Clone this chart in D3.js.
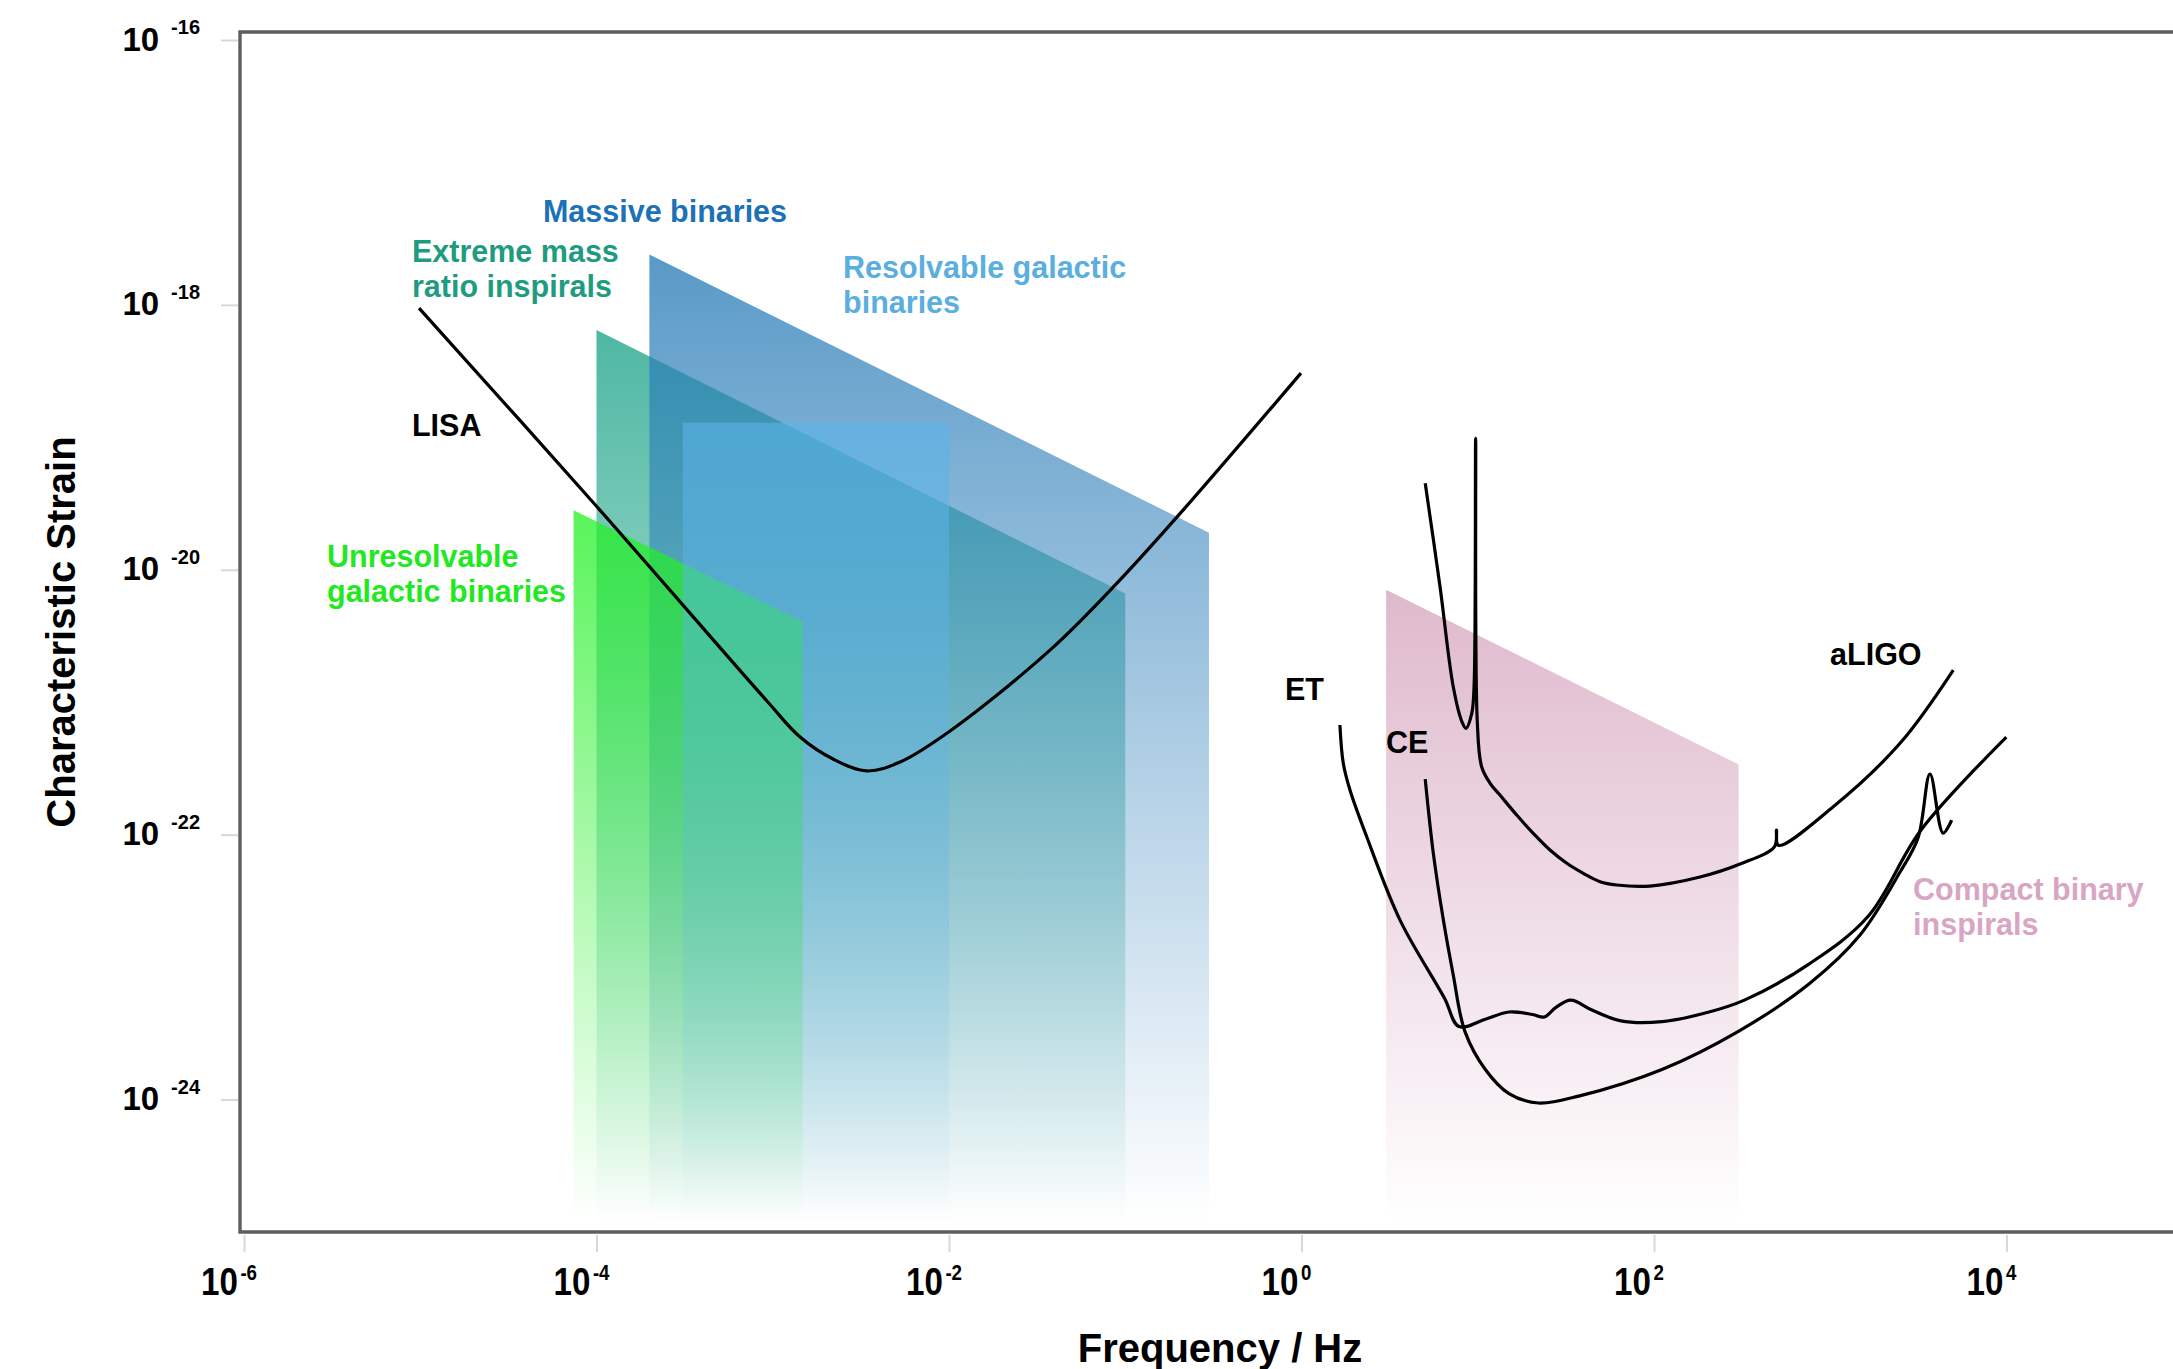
<!DOCTYPE html>
<html>
<head>
<meta charset="utf-8">
<script src="https://cdn.jsdelivr.net/npm/d3@7"></script>
<style>
  html, body { margin: 0; padding: 0; background: #fff; }
  svg { display: block; font-family: "Liberation Sans", Arial, Helvetica, sans-serif; font-weight: bold; }
</style>
</head>
<body>
<svg id="chart" width="2173" height="1369"></svg>
<script>
// All values are base-10 exponents: frequency in Hz, characteristic strain (dimensionless).

// Axis ticks
const xTickExps = [-6, -4, -2, 0, 2, 4];
const yTickExps = [-16, -18, -20, -22, -24];

// Source regions (drawn back to front)
const bandNames      = ["Extreme mass ratio inspirals", "Massive binaries", "Unresolvable galactic binaries", "Resolvable galactic binaries", "Compact binary inspirals"];
const bandLogFLow    = [-4.00, -3.70, -4.13, -3.51, 0.48];
const bandLogFHigh   = [-1.00, -0.525, -2.83, -2.00, 2.48];
const bandLogHAtLow  = [-18.19, -17.62, -19.55, -18.89, -20.15];
const bandLogHAtHigh = [-20.18, -19.72, -20.39, -18.89, -21.47];
const bandLogHFloor  = -24.92;
const bandColors     = ["#13a084", "#2a7db8", "#22f022", "#5ab4e8", "#c98aaa"];
const bandOpacity    = [0.75, 0.78, 0.75, 0.6, 0.6];

// Region labels
const bandLabelLines = [["Extreme mass", "ratio inspirals"], ["Massive binaries"], ["Unresolvable", "galactic binaries"], ["Resolvable galactic", "binaries"], ["Compact binary", "inspirals"]];
const bandLabelLogF  = [-5.047, -4.304, -5.529, -2.601, 3.470];
const bandLabelLogH  = [-17.676, -17.374, -19.979, -17.797, -22.494];
const bandLabelColor = ["#1f9c80", "#1c72b4", "#22e822", "#5aaee0", "#d8a6c3"];

// Detector sensitivity curves
const lisaLogF = [-5.007, -4.020, -3.033, -2.845, -2.658, -2.465, -2.278, -1.994, -1.427, -1.047, -0.672, -0.003];
const lisaLogH = [-18.024, -19.490, -20.991, -21.263, -21.429, -21.519, -21.452, -21.217, -20.607, -20.101, -19.550, -18.515];

const aligoLogF = [0.702, 0.786, 0.861, 0.911, 0.933, 0.966, 0.979, 0.988, 0.997, 1.022, 1.070, 1.126, 1.221, 1.315, 1.410, 1.505, 1.599, 1.694, 1.788, 1.977, 2.261, 2.488, 2.684, 2.695, 2.706, 3.017, 3.396, 3.698];
const aligoLogH = [-19.347, -20.128, -20.883, -21.150, -21.197, -21.084, -20.883, -19.007, -21.134, -21.487, -21.612, -21.701, -21.852, -21.990, -22.116, -22.216, -22.292, -22.355, -22.380, -22.388, -22.320, -22.222, -22.090, -21.965, -22.080, -21.789, -21.310, -20.757];

const etLogF = [0.218, 0.237, 0.275, 0.370, 0.559, 0.810, 0.894, 1.043, 1.177, 1.311, 1.378, 1.444, 1.528, 1.645, 1.812, 2.045, 2.312, 2.513, 2.879, 3.214, 3.515, 3.999];
const etLogH = [-21.172, -21.461, -21.663, -22.016, -22.645, -23.232, -23.449, -23.394, -23.339, -23.358, -23.377, -23.304, -23.250, -23.322, -23.406, -23.412, -23.339, -23.249, -22.977, -22.618, -21.965, -21.263];

const ceLogF = [0.702, 0.748, 0.805, 0.860, 0.927, 1.043, 1.177, 1.344, 1.578, 2.045, 2.479, 2.879, 3.169, 3.396, 3.498, 3.566, 3.640, 3.689];
const ceLogH = [-21.580, -22.141, -22.645, -23.052, -23.485, -23.773, -23.955, -24.026, -23.972, -23.773, -23.485, -23.128, -22.758, -22.282, -22.025, -21.542, -21.988, -21.890];

const detectorNames = ["LISA", "ET", "CE", "aLIGO"];
const detectorLabelLogF = [-5.047, -0.094, 0.479, 2.999];
const detectorLabelLogH = [-18.990, -20.983, -21.384, -20.719];

// ---------------------------------------------------------------
const svg = d3.select("#chart");
const x = d3.scaleLinear().domain([-6, 5]).range([244, 244 + 11 * 176.25]);
const y = d3.scaleLinear().domain([-25, -16]).range([1232, 40]);

const defs = svg.append("defs");

// Shaded source regions with a vertical fade toward the bottom
const bandLayer = svg.append("g");
bandNames.forEach((name, i) => {
  const gid = "fade" + i;
  const top = Math.max(bandLogHAtLow[i], bandLogHAtHigh[i]);
  const grad = defs.append("linearGradient")
    .attr("id", gid).attr("gradientUnits", "userSpaceOnUse")
    .attr("x1", 0).attr("x2", 0).attr("y1", y(top)).attr("y2", y(bandLogHFloor));
  grad.append("stop").attr("offset", 0).attr("stop-color", bandColors[i]).attr("stop-opacity", bandOpacity[i]);
  grad.append("stop").attr("offset", 1).attr("stop-color", bandColors[i]).attr("stop-opacity", 0);

  const pts = [
    [bandLogFLow[i], bandLogHFloor],
    [bandLogFLow[i], bandLogHAtLow[i]],
    [bandLogFHigh[i], bandLogHAtHigh[i]],
    [bandLogFHigh[i], bandLogHFloor]
  ];
  bandLayer.append("path")
    .attr("d", d3.line().x(d => x(d[0])).y(d => y(d[1]))(pts) + "Z")
    .attr("fill", `url(#${gid})`);
});

// Plot frame (open to the right)
const left = x(-6) - 4, topY = y(-16) - 8, bottom = y(-25);
svg.append("path")
  .attr("d", `M2200,${topY}H${left}V${bottom}H2200`)
  .attr("fill", "none").attr("stroke", "#5e5e5e").attr("stroke-width", 3.4);

// Axes ticks
const yAxis = svg.append("g").attr("transform", `translate(${x(-6) - 6},0)`)
  .call(d3.axisLeft(y).tickValues(yTickExps).tickSize(17).tickFormat(""));
yAxis.select(".domain").remove();
yAxis.selectAll("line").attr("stroke", "#d8d8d8").attr("stroke-width", 2);

const xAxis = svg.append("g").attr("transform", `translate(0,${y(-25) + 3})`)
  .call(d3.axisBottom(x).tickValues(xTickExps).tickSize(17).tickFormat(""));
xAxis.select(".domain").remove();
xAxis.selectAll("line").attr("stroke", "#d8d8d8").attr("stroke-width", 2);

// Y tick labels: 10^n
yTickExps.forEach(e => {
  const t = svg.append("text")
    .attr("x", x(-6) - 44).attr("y", y(e) + 10.5)
    .attr("text-anchor", "end").attr("fill", "#000");
  t.append("tspan").attr("font-size", 33).text("10");
  t.append("tspan").attr("font-size", 20).attr("dx", 12).attr("dy", -16.5).text(String(e));
});

// X tick labels: condensed 10^n
xTickExps.forEach(e => {
  const g = svg.append("g").attr("transform", `translate(${x(e) - 15},1295) scale(0.85,1)`);
  const t = g.append("text").attr("text-anchor", "middle").attr("fill", "#000");
  t.append("tspan").attr("font-size", 39).text("10");
  t.append("tspan").attr("font-size", 22).attr("dx", 3).attr("dy", -15).text(String(e));
});

// Axis titles
svg.append("text")
  .attr("transform", "translate(75,632) rotate(-90)")
  .attr("text-anchor", "middle").attr("font-size", 40).attr("fill", "#000")
  .text("Characteristic Strain");
svg.append("text")
  .attr("x", 1220).attr("y", 1362)
  .attr("text-anchor", "middle").attr("font-size", 40).attr("fill", "#000")
  .text("Frequency / Hz");

// Sensitivity curves
const curve = d3.line().x(d => x(d[0])).y(d => y(d[1])).curve(d3.curveCatmullRom.alpha(0.5));
const curves = [
  [lisaLogF, lisaLogH],
  [aligoLogF, aligoLogH],
  [etLogF, etLogH],
  [ceLogF, ceLogH]
];
curves.forEach(([fs, hs]) => {
  svg.append("path")
    .attr("d", curve(fs.map((f, k) => [f, hs[k]])))
    .attr("fill", "none").attr("stroke", "#000").attr("stroke-width", 3.2)
    .attr("stroke-linejoin", "round").attr("stroke-linecap", "butt");
});

// Region labels
bandLabelLines.forEach((lines, i) => {
  const t = svg.append("text")
    .attr("x", x(bandLabelLogF[i])).attr("y", y(bandLabelLogH[i]))
    .attr("font-size", 30.5).attr("fill", bandLabelColor[i]);
  lines.forEach((ln, k) => {
    t.append("tspan").attr("x", x(bandLabelLogF[i])).attr("dy", k === 0 ? 0 : 35).text(ln);
  });
});

// Detector labels
detectorNames.forEach((n, i) => {
  svg.append("text")
    .attr("x", x(detectorLabelLogF[i])).attr("y", y(detectorLabelLogH[i]))
    .attr("font-size", 30.5).attr("fill", "#000")
    .text(n);
});
</script>
</body>
</html>
